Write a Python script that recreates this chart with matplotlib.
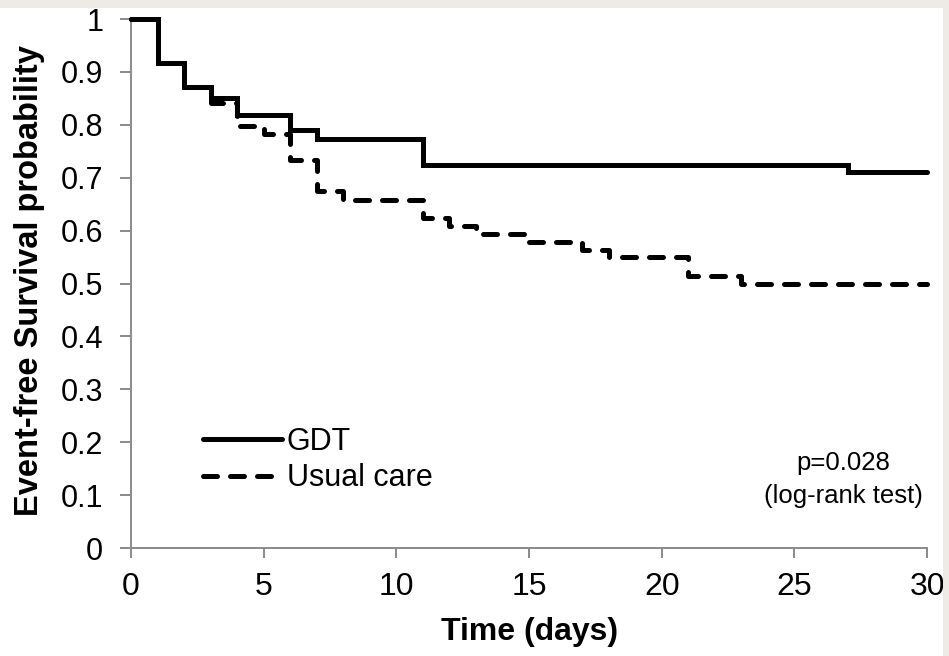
import matplotlib
matplotlib.use("Agg")
import matplotlib.pyplot as plt
from matplotlib.patches import Rectangle

plt.rcParams['font.family'] = ['Liberation Sans', 'DejaVu Sans']

# Kaplan-Meier step data (day of event, survival after the event)
gdt_days = [0, 1, 2, 3, 4, 6, 7, 11, 27, 30]
gdt_surv = [1.0, 0.917, 0.872, 0.851, 0.819, 0.790, 0.774, 0.724, 0.710, 0.710]

usual_days = [0, 1, 2, 3, 4, 5, 6, 7, 8, 11, 12, 13, 15, 17, 18, 21, 23, 30]
usual_surv = [1.0, 0.917, 0.872, 0.842, 0.797, 0.783, 0.733, 0.675, 0.658,
              0.624, 0.609, 0.594, 0.578, 0.564, 0.550, 0.515, 0.500, 0.500]

x_ticks = [0, 5, 10, 15, 20, 25, 30]
y_ticks = [0, 0.1, 0.2, 0.3, 0.4, 0.5, 0.6, 0.7, 0.8, 0.9, 1]
y_labels = ['0', '0.1', '0.2', '0.3', '0.4', '0.5', '0.6', '0.7', '0.8', '0.9', '1']

fig = plt.figure(figsize=(9.49, 6.56), dpi=100)
ax = fig.add_axes([0.138, 0.1646, 0.839, 0.8064])

ax.plot(gdt_days, gdt_surv, drawstyle='steps-post', color='black',
        lw=3.6, solid_joinstyle='miter', solid_capstyle='round',
        clip_on=False, label='GDT', zorder=3)
ax.plot(usual_days, usual_surv, drawstyle='steps-post', color='black',
        lw=3.6, dashes=(2.8, 2.6), dash_capstyle='round',
        clip_on=False, label='Usual care', zorder=3)

ax.set_xlim(0, 30)
ax.set_ylim(0, 1)
ax.set_xticks(x_ticks)
ax.set_yticks(y_ticks)
ax.set_yticklabels(y_labels)

for side in ['top', 'right']:
    ax.spines[side].set_visible(False)
for side in ['left', 'bottom']:
    ax.spines[side].set_color('#8a8a8a')
    ax.spines[side].set_linewidth(1.4)

ax.tick_params(axis='y', length=8, width=1.4, color='#8a8a8a', pad=12,
               labelsize=22, direction='out')
ax.tick_params(axis='x', length=7, width=1.4, color='#8a8a8a', pad=10,
               labelsize=23, direction='out')

ax.set_xlabel('Time (days)', fontsize=23, fontweight='bold', labelpad=11)
ax.set_ylabel('Event-free Survival probability', fontsize=23.5, fontweight='bold')
ax.yaxis.set_label_coords(-0.108, 0.505)

ax.legend(loc='center left', bbox_to_anchor=(0.09, 0.166), frameon=False,
          fontsize=22, handlelength=2.6, handletextpad=0.15,
          labelspacing=0.2, borderpad=0, borderaxespad=0)

ax.text(0.895, 0.13, 'p=0.028\n(log-rank test)', transform=ax.transAxes,
        ha='center', va='center', multialignment='center', fontsize=18.5,
        linespacing=1.45)

# light page border along the top and right edges
fig.add_artist(Rectangle((0, 1 - 8 / 656), 1, 8 / 656, transform=fig.transFigure,
                         color='#eeebe6', lw=0, zorder=5))
fig.add_artist(Rectangle((1 - 6 / 949, 0), 6 / 949, 1, transform=fig.transFigure,
                         color='#eeebe6', lw=0, zorder=5))

plt.savefig('out.png', dpi=100)
plt.close()
